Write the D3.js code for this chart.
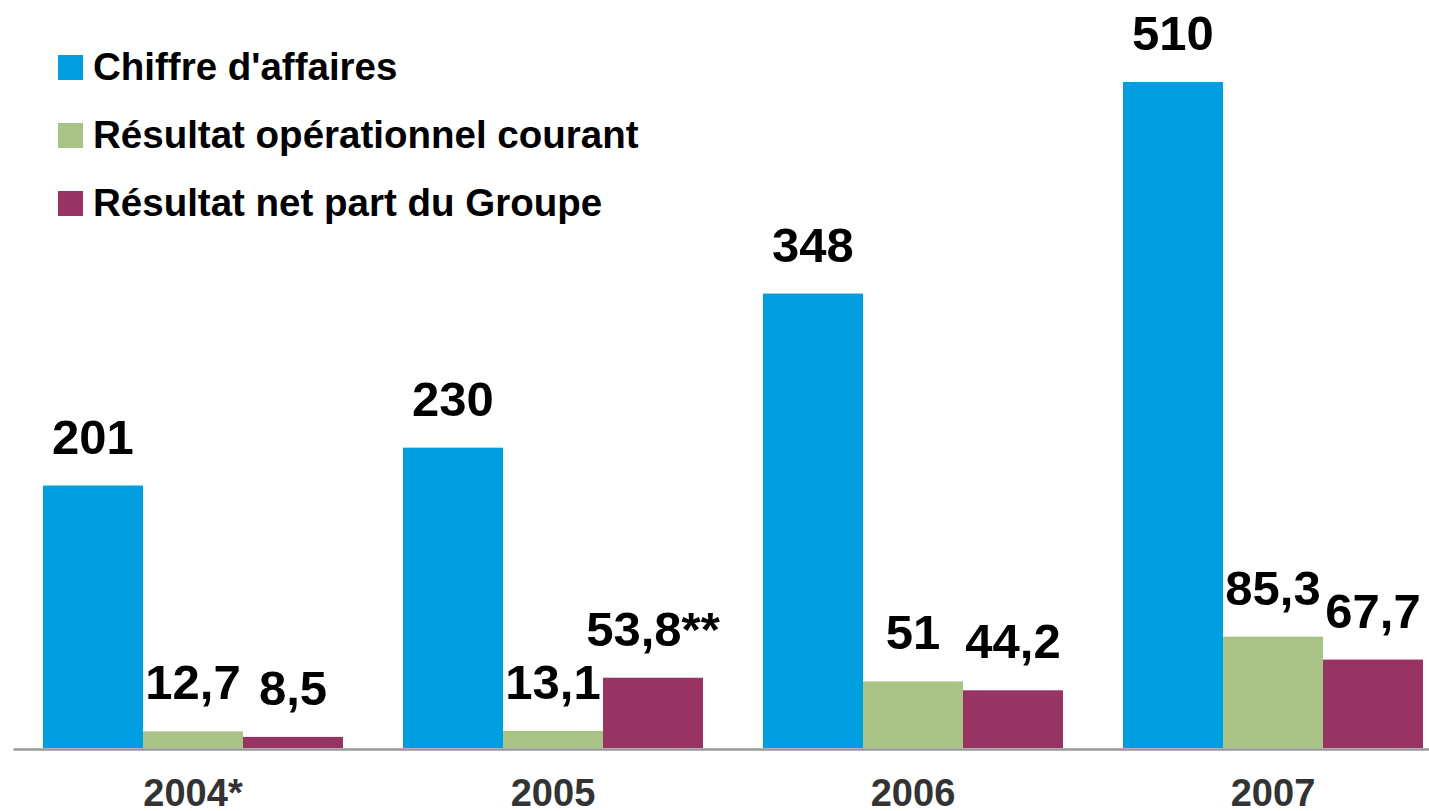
<!DOCTYPE html>
<html>
<head>
<meta charset="utf-8">
<script src="https://cdn.jsdelivr.net/npm/d3@7"></script>
<style>
  body { margin: 0; background: #fff; }
  svg { display: block; font-family: "Liberation Sans", Arial, sans-serif; font-weight: bold; }
</style>
</head>
<body>
<svg id="chart" width="1429" height="811"></svg>
<script>
const years = ['2004*', '2005', '2006', '2007'];
const seriesNames = ["Chiffre d'affaires", 'Résultat opérationnel courant', 'Résultat net part du Groupe'];
const seriesColors = ['#009ee0', '#a9c285', '#983463'];
const chiffreAffaires = [201, 230, 348, 510];
const resultatOp = [12.7, 13.1, 51, 85.3];
const resultatNet = [8.5, 53.8, 44.2, 67.7];
const chiffreLabels = ['201', '230', '348', '510'];
const resultatOpLabels = ['12,7', '13,1', '51', '85,3'];
const resultatNetLabels = ['8,5', '53,8**', '44,2', '67,7'];

const series = [
  { name: seriesNames[0], color: seriesColors[0], values: chiffreAffaires, labels: chiffreLabels },
  { name: seriesNames[1], color: seriesColors[1], values: resultatOp, labels: resultatOpLabels },
  { name: seriesNames[2], color: seriesColors[2], values: resultatNet, labels: resultatNetLabels },
];

const svg = d3.select('#chart');
const baseY = 748;

// scales
const x0 = d3.scaleBand()
  .domain(years)
  .range([13, 1453])
  .paddingInner(1 / 6)
  .paddingOuter(1 / 12);

const x1 = d3.scaleBand()
  .domain(d3.range(series.length))
  .range([0, x0.bandwidth()]);

const y = d3.scaleLinear()
  .domain([0, 510])
  .range([baseY, 82]);

// bars
const groups = svg.append('g')
  .selectAll('g')
  .data(years)
  .join('g')
  .attr('transform', d => `translate(${x0(d)},0)`);

groups.selectAll('rect')
  .data((d, i) => series.map((s, j) => ({ j, v: s.values[i], color: s.color })))
  .join('rect')
  .attr('x', d => x1(d.j))
  .attr('y', d => y(d.v))
  .attr('width', x1.bandwidth())
  .attr('height', d => baseY - y(d.v))
  .attr('fill', d => d.color);

groups.selectAll('text')
  .data((d, i) => series.map((s, j) => ({ j, v: s.values[i], label: s.labels[i] })))
  .join('text')
  .attr('x', d => x1(d.j) + x1.bandwidth() / 2)
  .attr('y', d => y(d.v) - 32)
  .attr('text-anchor', 'middle')
  .attr('font-size', 49)
  .attr('fill', '#000')
  .text(d => d.label);

// axis line + year labels
const axis = svg.append('g')
  .attr('transform', `translate(0,${baseY + 1})`)
  .call(d3.axisBottom(x0).tickSize(0).tickPadding(57));

axis.select('.domain')
  .attr('stroke', '#999')
  .attr('stroke-width', 2.5);

axis.selectAll('text')
  .attr('font-size', 38)
  .attr('font-family', '"Liberation Sans", Arial, sans-serif')
  .attr('font-weight', 'bold')
  .attr('fill', '#333')
  .attr('dy', 0);

// legend
const legend = svg.append('g')
  .selectAll('g')
  .data(series)
  .join('g')
  .attr('transform', (d, i) => `translate(58,${55 + i * 68})`);

legend.append('rect')
  .attr('width', 25)
  .attr('height', 25)
  .attr('fill', d => d.color);

legend.append('text')
  .attr('x', 35)
  .attr('y', 25)
  .attr('font-size', 38.5)
  .attr('fill', '#000')
  .text(d => d.name);
</script>
</body>
</html>
